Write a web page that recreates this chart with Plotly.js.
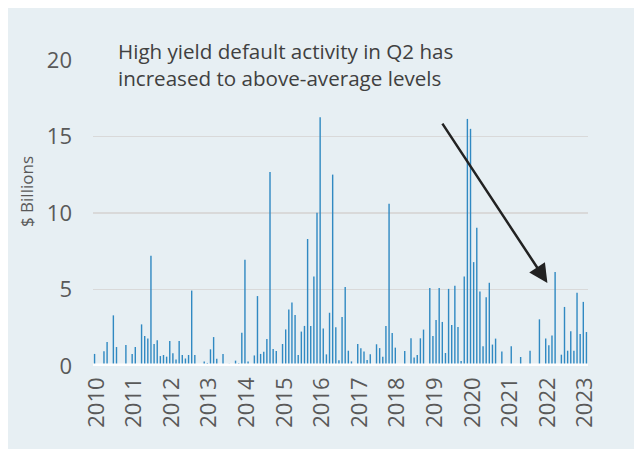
<!DOCTYPE html>
<html>
<head>
<meta charset="utf-8">
<script src="https://cdn.plot.ly/plotly-3.0.1.min.js"></script>
<style>
  html, body { margin: 0; padding: 0; background: #ffffff; width: 634px; height: 449px; overflow: hidden; }
  #chart { position: absolute; left: 8px; top: 8px; width: 626px; height: 441px; }
</style>
</head>
<body>
<div id="chart"></div>
<script>
// Monthly high-yield default volume ($ billions), starting January 2010
const yearLabels = ['2010','2011','2012','2013','2014','2015','2016','2017','2018','2019','2020','2021','2022','2023'];
const defaultVolume = [
  // 2010
  0.79, 0, 0.08, 0.97, 1.57, 0, 3.31, 1.24, 0, 0, 1.37, 0.06,
  // 2011
  0.79, 1.24, 0, 2.72, 1.96, 1.80, 7.20, 1.44, 1.69, 0.65, 0.72, 0.61,
  // 2012
  1.64, 0.83, 0.43, 1.64, 0.72, 0.49, 0.72, 4.93, 0.72, 0, 0.06, 0.30,
  // 2013
  0.20, 1.09, 1.89, 0.48, 0, 0.79, 0, 0.15, 0, 0.35, 0.18, 2.17,
  // 2014
  6.94, 0.30, 0, 0.69, 4.57, 0.79, 0.93, 1.77, 12.68, 1.11, 0.98, 0,
  // 2015
  1.44, 2.39, 3.70, 4.15, 3.34, 0.72, 2.25, 2.62, 8.30, 2.62, 5.85, 10.02,
  // 2016
  16.26, 2.45, 0.76, 3.48, 12.51, 2.53, 0.37, 3.20, 5.17, 1.00, 0.30, 0,
  // 2017
  1.44, 1.16, 0.94, 0.39, 0.76, 0, 1.42, 1.17, 0.60, 2.62, 10.60, 2.15,
  // 2018
  1.20, 0, 0, 0.98, 0, 1.81, 0.55, 0.72, 1.81, 2.38, 0, 5.10,
  // 2019
  1.96, 3.01, 5.10, 2.88, 0.85, 5.04, 2.68, 5.24, 2.55, 0.33, 5.85, 16.15,
  // 2020
  15.50, 6.79, 9.04, 4.87, 1.29, 4.50, 5.44, 1.40, 1.79, 0, 0.94, 0,
  // 2021
  0, 1.29, 0, 0, 0.59, 0, 0, 1.00, 0, 0, 3.05, 0,
  // 2022
  1.79, 1.35, 2.00, 6.15, 0, 0.74, 3.86, 1.00, 2.27, 1.00, 4.78, 2.09,
  // 2023
  4.19, 2.22
];
const yTicks = [0, 5, 10, 15, 20];

const monthIndex = defaultVolume.map((_, i) => i);
const yearTickPos = yearLabels.map((_, i) => i * 12 + 0.6);

const textGray = '#595959';
const fontFam = '"Open Sans", "DejaVu Sans", sans-serif';

const trace = {
  type: 'bar',
  x: monthIndex,
  y: defaultVolume,
  marker: { color: '#3089c2', line: { width: 0 } },
  hoverinfo: 'skip'
};

const layout = {
  width: 626,
  height: 441,
  margin: { l: 85, r: 46, t: 52, b: 83 },
  paper_bgcolor: '#e7eff3',
  plot_bgcolor: 'rgba(0,0,0,0)',
  bargap: 0.55,
  showlegend: false,
  font: { family: fontFam, color: textGray },
  xaxis: {
    range: [-0.5, defaultVolume.length - 0.5],
    tickmode: 'array',
    tickvals: yearTickPos,
    ticktext: yearLabels,
    tickangle: -90,
    tickfont: { size: 22, color: textGray, family: fontFam },
    ticks: '',
    ticklabelstandoff: 6,
    showgrid: false,
    zeroline: false,
    showline: false,
    fixedrange: true
  },
  yaxis: {
    range: [0, 20],
    tickmode: 'array',
    tickvals: yTicks,
    ticktext: yTicks.map(String),
    tickfont: { size: 22, color: textGray, family: fontFam },
    ticks: '',
    ticklabelstandoff: 20,
    showgrid: true,
    gridcolor: '#d9d9d9',
    gridwidth: 1.5,
    zeroline: false,
    showline: false,
    fixedrange: true
  },
  shapes: [
    {
      type: 'line', xref: 'paper', yref: 'y',
      x0: 0, x1: 1, y0: 0, y1: 0,
      line: { color: '#ffffff', width: 5 },
      layer: 'above'
    }
  ],
  annotations: [
    {
      xref: 'paper', yref: 'paper',
      x: 0.047, y: 1.03, xanchor: 'left', yanchor: 'middle',
      text: 'High yield default activity in Q2 has',
      showarrow: false,
      font: { size: 20.6, color: '#404040', family: fontFam }
    },
    {
      xref: 'paper', yref: 'paper',
      x: 0.047, y: 0.94, xanchor: 'left', yanchor: 'middle',
      text: 'increased to above-average levels',
      showarrow: false,
      font: { size: 20.6, color: '#404040', family: fontFam }
    },
    {
      xref: 'paper', yref: 'paper',
      x: -0.133, y: 0.569, xanchor: 'center', yanchor: 'middle',
      text: '$ Billions', textangle: -90,
      showarrow: false,
      font: { size: 17, color: textGray, family: fontFam }
    },
    {
      xref: 'paper', yref: 'paper',
      x: 0.918, y: 0.271,
      ax: -106, ay: -161,
      axref: 'pixel', ayref: 'pixel',
      text: '',
      showarrow: true,
      arrowhead: 2,
      arrowsize: 1.5,
      arrowwidth: 2.5,
      arrowcolor: '#222222'
    }
  ]
};

Plotly.newPlot('chart', [trace], layout, { displayModeBar: false, staticPlot: true });
</script>
</body>
</html>
